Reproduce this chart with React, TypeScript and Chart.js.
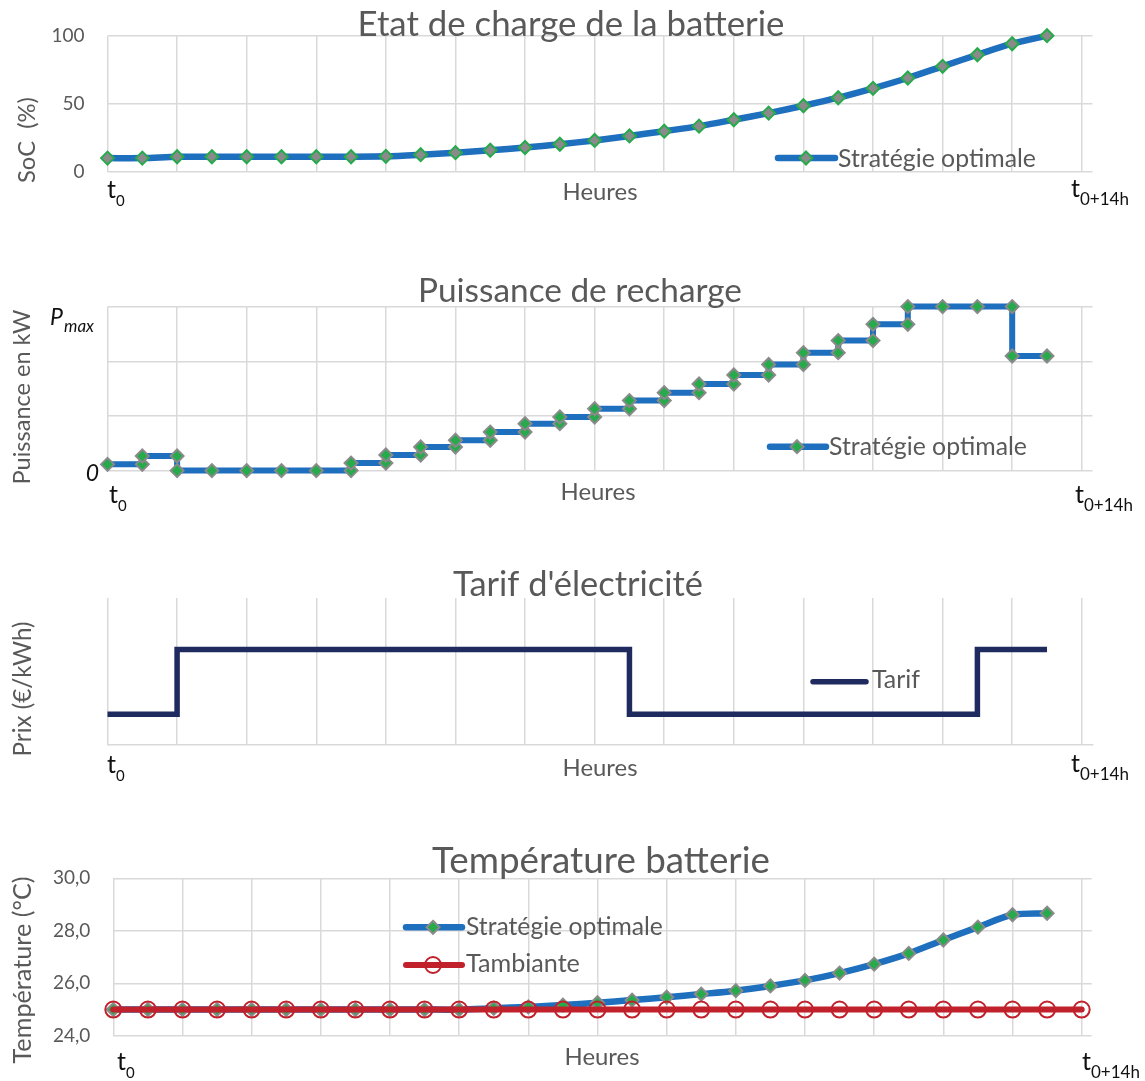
import React, { useEffect, useRef } from 'react';
import { Chart, registerables } from 'chart.js';

Chart.register(...registerables);

// ---------------- data ----------------
const timeSteps = [0, 0.5, 1, 1.5, 2, 2.5, 3, 3.5, 4, 4.5, 5, 5.5, 6, 6.5, 7, 7.5, 8, 8.5, 9, 9.5, 10, 10.5, 11, 11.5, 12, 12.5, 13, 13.5, 14];
const hourTicks = [0, 1, 2, 3, 4, 5, 6, 7, 8, 9, 10, 11, 12, 13, 14];

const socTicks = [0, 50, 100];
const socOptimal = [10, 10, 11, 11, 11, 11, 11, 11, 11.3, 12.5, 14, 15.8, 17.8, 20.2, 23, 26.3, 29.8, 33.5, 38.2, 43.1, 48.5, 54.4, 61.3, 68.9, 77.5, 86, 94.1, 100];

// charging power per half-hour interval, in % of Pmax
const powerGridTicks = [0, 33.333, 66.667, 100];
const powerOptimal = [3.8, 8.9, 0, 0, 0, 0, 0, 4.6, 9.5, 14.4, 18.5, 23.5, 28.6, 32.7, 37.7, 42.7, 47.5, 52.8, 58.3, 64.7, 71.9, 79.3, 89.2, 100, 100, 100, 69.9];

// electricity tariff per half-hour interval (relative level: off-peak / peak)
const tariffGridTicks = [0, 1];
const tariffLevel = [0.21, 0.21, 0.65, 0.65, 0.65, 0.65, 0.65, 0.65, 0.65, 0.65, 0.65, 0.65, 0.65, 0.65, 0.65, 0.21, 0.21, 0.21, 0.21, 0.21, 0.21, 0.21, 0.21, 0.21, 0.21, 0.65, 0.65];

const tempTicks = [24, 26, 28, 30];
const tempOptimal = [25, 25, 25, 25, 25, 25, 25, 25, 25, 25, 25, 25.05, 25.1, 25.17, 25.26, 25.36, 25.47, 25.59, 25.72, 25.9, 26.11, 26.39, 26.73, 27.14, 27.65, 28.14, 28.61, 28.67];
const tempAmbient = [25, 25, 25, 25, 25, 25, 25, 25, 25, 25, 25, 25, 25, 25, 25, 25, 25, 25, 25, 25, 25, 25, 25, 25, 25, 25, 25, 25, 25];

// ---------------- styles ----------------
const W = 1145;
const FONT = 'Lato, "Open Sans", "DejaVu Sans", sans-serif';
const TEXT_GRAY = '#595959';
const GRID = '#D9D9D9';
const BLUE = '#1E6FBE';
const GREEN = '#27AA4C';
const MARK_GRAY = '#8A8A8A';
const RED = '#C0212B';
const NAVY = '#1F2A5E';

const pts = (vals: number[]) => vals.map((v, i) => ({ x: timeSteps[i], y: v }));
const stepPts = (vals: number[]) => {
  const out: { x: number; y: number }[] = [];
  for (let i = 0; i <= vals.length; i++) {
    const x = timeSteps[i];
    if (i > 0) out.push({ x, y: vals[i - 1] });
    if (i < vals.length && (i === 0 || vals[i] !== vals[i - 1])) out.push({ x, y: vals[i] });
  }
  return out;
};

// ---------------- drawing helpers ----------------
function fitSize(ctx: CanvasRenderingContext2D, text: string, width: number, style = '') {
  ctx.font = `${style} 100px ${FONT}`;
  return (100 * width) / ctx.measureText(text).width;
}
function text(ctx: CanvasRenderingContext2D, s: string, x: number, y: number, o: any = {}) {
  const style = o.style || '';
  const size = o.width ? fitSize(ctx, s, o.width, style) : o.size || 18;
  ctx.font = `${style} ${size}px ${FONT}`;
  ctx.fillStyle = o.color || TEXT_GRAY;
  ctx.textAlign = o.align || 'left';
  ctx.textBaseline = o.baseline || 'alphabetic';
  ctx.fillText(s, x, y);
  return ctx.measureText(s).width;
}
function vtext(ctx: CanvasRenderingContext2D, s: string, cx: number, cy: number, width: number) {
  ctx.save();
  ctx.translate(cx, cy);
  ctx.rotate(-Math.PI / 2);
  text(ctx, s, 0, 0, { width, align: 'center', baseline: 'middle' });
  ctx.restore();
}
function tLabel(ctx: CanvasRenderingContext2D, sub: string, x: number, baseline: number, subSize: number) {
  const w = text(ctx, 't', x, baseline, { size: 25, color: '#111111' });
  text(ctx, sub, x + w, baseline + 8, { size: subSize, color: '#111111' });
}
function diamond(ctx: CanvasRenderingContext2D, x: number, y: number, r: number, fill: string, stroke: string) {
  ctx.beginPath();
  ctx.moveTo(x, y - r);
  ctx.lineTo(x + r, y);
  ctx.lineTo(x, y + r);
  ctx.lineTo(x - r, y);
  ctx.closePath();
  ctx.fillStyle = fill;
  ctx.fill();
  ctx.lineWidth = 2;
  ctx.strokeStyle = stroke;
  ctx.stroke();
}
function seg(ctx: CanvasRenderingContext2D, x1: number, x2: number, y: number, color: string, lw: number) {
  ctx.beginPath();
  ctx.moveTo(x1, y);
  ctx.lineTo(x2, y);
  ctx.lineCap = 'round';
  ctx.lineWidth = lw;
  ctx.strokeStyle = color;
  ctx.stroke();
}

// ---------------- chart specs ----------------
type Spec = {
  top: number; height: number;
  plotLeft: number; plotRight: number; plotTop: number; plotBottom: number;
  xMax: number; yMin: number; yMax: number; yTicks: number[];
  showYTicks: boolean; showYGrid: boolean; tickFmt?: (v: number) => string;
  datasets: any[];
  decorate: (ctx: CanvasRenderingContext2D) => void;
};

const specs: Spec[] = [
  {
    top: 0, height: 215,
    plotLeft: 107.5, plotRight: 1092.5, plotTop: 35.7, plotBottom: 171.7,
    xMax: 14.154, yMin: 0, yMax: 100, yTicks: socTicks,
    showYTicks: true, showYGrid: true, tickFmt: (v) => String(v),
    datasets: [
      {
        label: 'Stratégie optimale', data: pts(socOptimal), borderColor: BLUE, borderWidth: 6.5,
        tension: 0.3, pointStyle: 'rectRot', pointRadius: 6.5, pointBackgroundColor: MARK_GRAY,
        pointBorderColor: GREEN, pointBorderWidth: 2, borderCapStyle: 'round', clip: false,
      },
    ],
    decorate: (ctx) => {
      text(ctx, 'Etat de charge de la batterie', 571, 36, { width: 427, align: 'center' });
      vtext(ctx, 'SoC  (%)', 27, 140, 86);
      text(ctx, 'Heures', 600, 200, { width: 75, align: 'center' });
      tLabel(ctx, '0', 107, 198, 15);
      tLabel(ctx, '0+14h', 1071, 197, 17);
      seg(ctx, 778, 835, 158, BLUE, 6.5);
      diamond(ctx, 806, 158, 6.5, MARK_GRAY, GREEN);
      text(ctx, 'Stratégie optimale', 838, 167, { width: 198 });
    },
  },
  {
    top: 265, height: 255,
    plotLeft: 107.5, plotRight: 1092.5, plotTop: 306.6, plotBottom: 470.6,
    xMax: 14.154, yMin: 0, yMax: 100, yTicks: powerGridTicks,
    showYTicks: false, showYGrid: true,
    datasets: [
      {
        label: 'Stratégie optimale', data: stepPts(powerOptimal), borderColor: BLUE, borderWidth: 6,
        tension: 0, pointStyle: 'rectRot', pointRadius: 6.5, pointBackgroundColor: GREEN,
        pointBorderColor: MARK_GRAY, pointBorderWidth: 2, borderJoinStyle: 'miter', clip: false,
      },
    ],
    decorate: (ctx) => {
      text(ctx, 'Puissance de recharge', 580, 302, { width: 324, align: 'center' });
      vtext(ctx, 'Puissance en kW', 22.5, 397, 175);
      text(ctx, 'P', 50, 325, { size: 23, style: 'italic', color: '#111111' });
      text(ctx, 'max', 64, 332, { size: 17, style: 'italic', color: '#111111' });
      text(ctx, '0', 99, 481, { size: 23, style: 'italic', color: '#111111', align: 'right' });
      text(ctx, 'Heures', 598, 500, { width: 75, align: 'center' });
      tLabel(ctx, '0', 109, 503, 15);
      tLabel(ctx, '0+14h', 1075, 503, 17);
      seg(ctx, 770, 826, 446.7, BLUE, 6.5);
      diamond(ctx, 797, 446.7, 6.5, GREEN, MARK_GRAY);
      text(ctx, 'Stratégie optimale', 829, 455, { width: 198 });
    },
  },
  {
    top: 555, height: 240,
    plotLeft: 107.5, plotRight: 1092.5, plotTop: 598, plotBottom: 745,
    xMax: 14.154, yMin: 0, yMax: 1, yTicks: tariffGridTicks,
    showYTicks: false, showYGrid: false,
    datasets: [
      {
        label: 'Tarif', data: stepPts(tariffLevel), borderColor: NAVY, borderWidth: 5.5,
        tension: 0, pointRadius: 0, borderJoinStyle: 'miter', clip: false,
      },
    ],
    decorate: (ctx) => {
      text(ctx, "Tarif d'électricité", 578, 596, { width: 250, align: 'center' });
      vtext(ctx, 'Prix (€/kWh)', 23, 689, 135);
      text(ctx, 'Heures', 600, 776, { width: 75, align: 'center' });
      tLabel(ctx, '0', 107, 773, 15);
      tLabel(ctx, '0+14h', 1071, 772, 17);
      seg(ctx, 813, 866, 681.7, NAVY, 5.5);
      text(ctx, 'Tarif', 872, 688, { width: 48 });
    },
  },
  {
    top: 840, height: 241,
    plotLeft: 113.3, plotRight: 1091.7, plotTop: 878.3, plotBottom: 1035.8,
    xMax: 14.145, yMin: 24, yMax: 30, yTicks: tempTicks,
    showYTicks: true, showYGrid: true, tickFmt: (v) => v.toFixed(1).replace('.', ','),
    datasets: [
      {
        label: 'Tambiante', data: pts(tempAmbient), borderColor: RED, borderWidth: 6,
        tension: 0, pointStyle: 'circle', pointRadius: 8, pointBackgroundColor: 'rgba(0,0,0,0)',
        pointBorderColor: RED, pointBorderWidth: 2, borderCapStyle: 'round', clip: false,
      },
      {
        label: 'Stratégie optimale', data: pts(tempOptimal), borderColor: BLUE, borderWidth: 6.5,
        tension: 0.3, pointStyle: 'rectRot', pointRadius: 6.5, pointBackgroundColor: GREEN,
        pointBorderColor: MARK_GRAY, pointBorderWidth: 2, borderCapStyle: 'round', clip: false,
      },
    ],
    decorate: (ctx) => {
      text(ctx, 'Température batterie', 601, 873, { width: 338, align: 'center' });
      vtext(ctx, 'Température (°C)', 23, 970, 187);
      text(ctx, 'Heures', 602, 1065, { width: 75, align: 'center' });
      tLabel(ctx, '0', 117, 1070, 15);
      tLabel(ctx, '0+14h', 1082, 1070, 17);
      seg(ctx, 406, 462, 927.3, BLUE, 6.5);
      diamond(ctx, 433, 927.3, 6.5, GREEN, MARK_GRAY);
      text(ctx, 'Stratégie optimale', 466, 935, { width: 197 });
      seg(ctx, 406, 462, 965, RED, 6);
      ctx.beginPath();
      ctx.arc(433, 965, 8, 0, Math.PI * 2);
      ctx.lineWidth = 2;
      ctx.strokeStyle = RED;
      ctx.stroke();
      text(ctx, 'Tambiante', 466, 972, { width: 114 });
    },
  },
];

function buildConfig(s: Spec): any {
  const decor = {
    id: 'decor',
    afterDraw(chart: any) {
      const ctx = chart.ctx as CanvasRenderingContext2D;
      ctx.save();
      ctx.translate(0, -s.top);
      s.decorate(ctx);
      ctx.restore();
    },
  };
  return {
    type: 'line',
    data: { datasets: s.datasets },
    options: {
      responsive: false,
      maintainAspectRatio: false,
      animation: false,
      devicePixelRatio: 1,
      events: [],
      layout: { padding: { left: 0, top: s.plotTop - s.top, right: W - s.plotRight, bottom: 0 } },
      plugins: { legend: { display: false }, tooltip: { enabled: false }, title: { display: false } },
      scales: {
        x: {
          type: 'linear', min: 0, max: s.xMax,
          afterBuildTicks: (sc: any) => { sc.ticks = hourTicks.map((v) => ({ value: v })); },
          ticks: { display: false, includeBounds: false },
          grid: { color: GRID, lineWidth: 1.5, drawTicks: false },
          border: { display: !s.showYGrid, color: GRID, width: 1.5 },
          afterFit: (sc: any) => { sc.height = s.height - (s.plotBottom - s.top); },
        },
        y: {
          type: 'linear', min: s.yMin, max: s.yMax,
          afterBuildTicks: (sc: any) => { sc.ticks = s.yTicks.map((v) => ({ value: v })); },
          ticks: {
            display: s.showYTicks, padding: 23, color: TEXT_GRAY,
            font: { family: FONT, size: 19 },
            callback: (v: number) => (s.tickFmt ? s.tickFmt(v) : ''),
          },
          grid: { display: s.showYGrid, color: GRID, lineWidth: 1.5, drawTicks: false },
          border: { display: false },
          afterFit: (sc: any) => { sc.width = s.plotLeft; },
        },
      },
    },
    plugins: [decor],
  };
}

function ChartPanel({ spec }: { spec: Spec }) {
  const ref = useRef<HTMLCanvasElement>(null);
  useEffect(() => {
    const chart = new Chart(ref.current as HTMLCanvasElement, buildConfig(spec));
    return () => chart.destroy();
  }, []);
  return (
    <canvas
      ref={ref}
      width={W}
      height={spec.height}
      style={{ position: 'absolute', left: 0, top: spec.top, width: W, height: spec.height, display: 'block' }}
    />
  );
}

export default function App() {
  return (
    <div style={{ position: 'absolute', left: 0, top: 0, width: W, height: 1081, background: '#ffffff', overflow: 'hidden' }}>
      {specs.map((s, i) => (
        <ChartPanel key={i} spec={s} />
      ))}
    </div>
  );
}
